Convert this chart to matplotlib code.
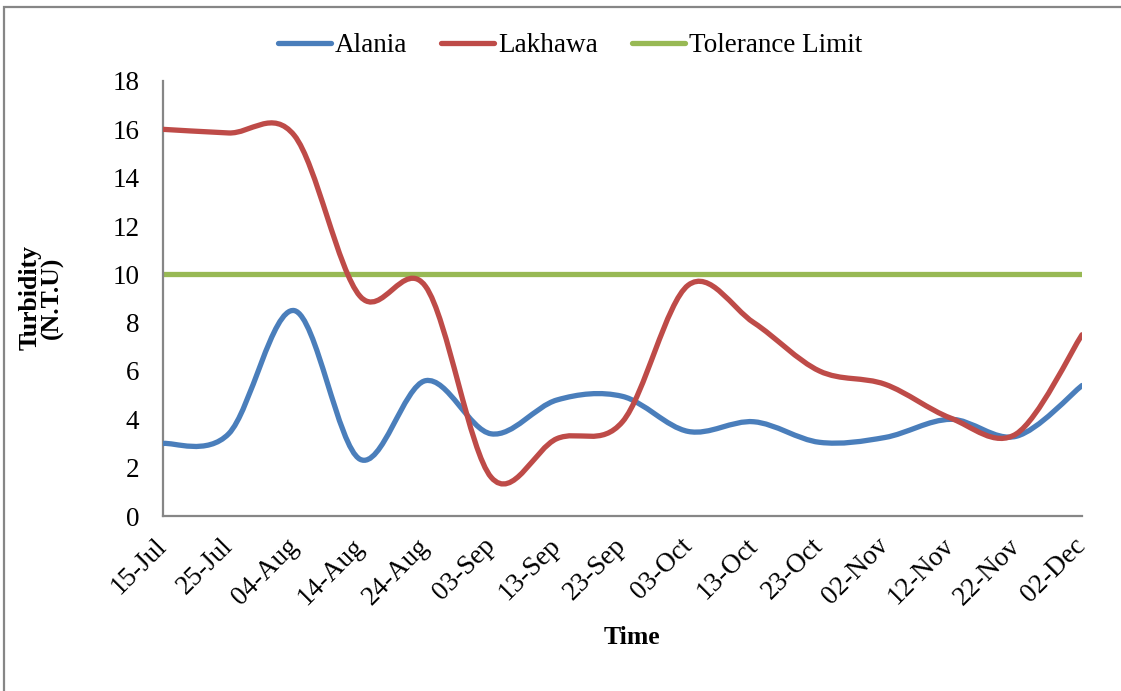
import matplotlib
matplotlib.use("Agg")
import matplotlib.pyplot as plt
from matplotlib.path import Path
from matplotlib.patches import PathPatch, Rectangle
from matplotlib.lines import Line2D
import numpy as np

plt.rcParams.update({
    "font.family": "Liberation Serif",
    "font.size": 19.5,
})

# sampling dates (10-day interval) and turbidity readings in N.T.U
dates = ["15-Jul", "25-Jul", "04-Aug", "14-Aug", "24-Aug", "03-Sep", "13-Sep",
         "23-Sep", "03-Oct", "13-Oct", "23-Oct", "02-Nov", "12-Nov", "22-Nov",
         "02-Dec"]
alania = [3.0, 3.4, 8.5, 2.35, 5.6, 3.4, 4.8, 4.95, 3.5, 3.9, 3.05, 3.25, 4.0, 3.3, 5.4]
lakhawa = [16.0, 15.85, 15.75, 9.1, 9.5, 1.6, 3.2, 3.9, 9.55, 8.0, 6.0, 5.45, 4.05, 3.4, 7.5]
tolerance = [10] * len(dates)

BLUE = "#4A7EBB"
RED = "#BE4B48"
GREEN = "#98B954"
AXIS_GREY = "#868686"


def smooth_path(x, y):
    """Cubic Bezier through every point (Catmull-Rom style smoothing)."""
    p = np.column_stack([x, y]).astype(float)
    ext = np.vstack([p[0], p, p[-1]])
    verts = [p[0]]
    codes = [Path.MOVETO]
    for i in range(len(p) - 1):
        c1 = ext[i + 1] + (ext[i + 2] - ext[i]) / 6.0
        c2 = ext[i + 2] - (ext[i + 3] - ext[i + 1]) / 6.0
        verts += [c1, c2, p[i + 1]]
        codes += [Path.CURVE4] * 3
    return Path(verts, codes)


fig = plt.figure(figsize=(11.21, 6.91), dpi=100)
ax = fig.add_axes([163 / 1121, 1 - 516 / 691, (1082 - 163) / 1121, (516 - 81) / 691])

x = np.arange(len(dates))
lw = 3.8
for vals, col in [(alania, BLUE), (lakhawa, RED)]:
    ax.add_patch(PathPatch(smooth_path(x, vals), facecolor="none", edgecolor=col,
                           lw=lw, capstyle="round", joinstyle="round", zorder=3))
ax.plot(x, tolerance, color=GREEN, lw=lw, solid_capstyle="butt", zorder=2)

ax.set_xlim(0, len(dates) - 1)
ax.set_ylim(0, 18)
ax.set_yticks(np.arange(0, 19, 2))
ax.set_xticks(x)
ax.set_xticklabels(dates, rotation=45, ha="right", va="center", rotation_mode="anchor")
ax.tick_params(length=0)
ax.tick_params(axis="y", pad=17)
ax.tick_params(axis="x", pad=19)

for s in ["top", "right"]:
    ax.spines[s].set_visible(False)
for s in ["left", "bottom"]:
    ax.spines[s].set_color(AXIS_GREY)
    ax.spines[s].set_linewidth(1.6)

ax.set_xlabel("Time", fontweight="bold", fontsize=18.5)
ax.xaxis.set_label_coords(0.51, -0.252)
fig.text(41 / 1121, 1 - 298 / 691, "Turbidity\n(N.T.U)", rotation=90, ha="center",
         va="center", fontweight="bold", fontsize=18.5, linespacing=0.95)

handles = [Line2D([], [], color=BLUE, lw=lw, solid_capstyle="round"),
           Line2D([], [], color=RED, lw=lw, solid_capstyle="round"),
           Line2D([], [], color=GREEN, lw=lw, solid_capstyle="round")]
fig.legend(handles, ["Alania", "Lakhawa", "Tolerance Limit"], loc="center",
           bbox_to_anchor=(570 / 1121, 1 - 46 / 691), ncol=3, frameon=False,
           handlelength=1.95, handletextpad=0.15, columnspacing=1.25)

# chart frame
fig.add_artist(Rectangle((3.5 / 1121, -0.05), 1.1, 1 - 7 / 691 + 0.05,
                         transform=fig.transFigure, fill=False,
                         edgecolor=AXIS_GREY, lw=1.6))

fig.savefig("out.png", dpi=100)
